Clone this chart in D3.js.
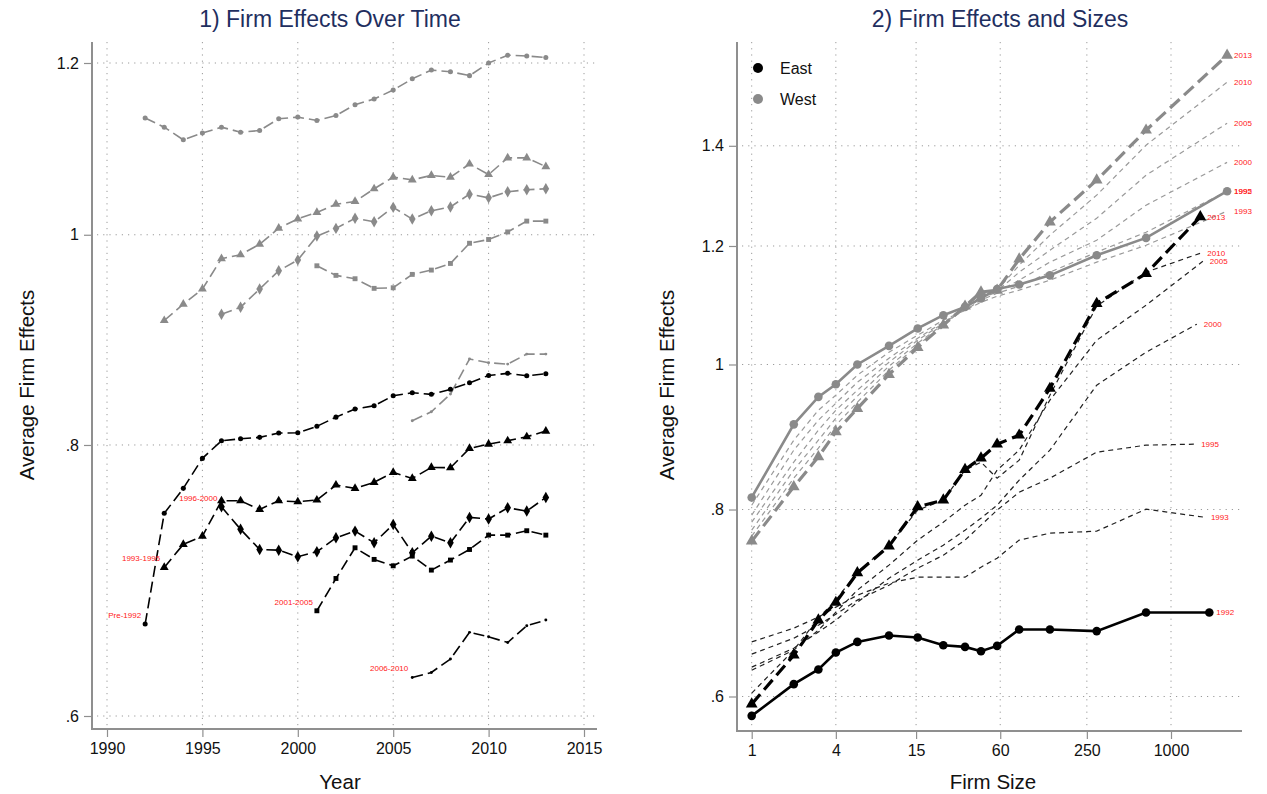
<!DOCTYPE html>
<html><head><meta charset="utf-8">
<script src="https://cdn.jsdelivr.net/npm/d3@7/dist/d3.min.js"></script>
<style>body{margin:0;background:#fff} svg{display:block;font-family:"Liberation Sans",Arial,Helvetica,sans-serif}</style>
</head><body><svg id="c" width="1267" height="794"></svg>
<script>
// ---------------- DATA: panel 1 (Firm effects over time, by entry cohort) ----------------
const years = [1992,1993,1994,1995,1996,1997,1998,1999,2000,2001,2002,2003,2004,2005,2006,2007,2008,2009,2010,2011,2012,2013];
const cohortLabels = ["Pre-1992","1993-1995","1996-2000","2001-2005","2006-2010"];
const cohortStart = [1992,1993,1996,2001,2006];
const westPre92 = [1.132,1.121,1.106,1.114,1.121,1.115,1.117,1.131,1.133,1.129,1.135,1.148,1.155,1.166,1.180,1.191,1.189,1.184,1.200,1.210,1.209,1.207];
const west9395 = [0.913,0.929,0.944,0.975,0.979,0.990,1.007,1.017,1.024,1.033,1.036,1.050,1.063,1.060,1.065,1.063,1.078,1.066,1.085,1.085,1.075];
const west9600 = [0.919,0.926,0.944,0.9625,0.9735,0.9986,1.0068,1.0176,1.0139,1.0295,1.0168,1.0258,1.030,1.044,1.040,1.0467,1.049,1.050];
const west0105 = [0.9676,0.9578,0.9544,0.9447,0.9453,0.9588,0.9632,0.970,0.991,0.995,1.003,1.0146,1.0146];
const west0610 = [0.8208,0.8287,0.8444,0.8764,0.873,0.8717,0.881,0.881];
const eastPre92 = [0.6615,0.744,0.764,0.7887,0.8036,0.8053,0.8065,0.8102,0.8104,0.816,0.824,0.8311,0.834,0.8429,0.8456,0.8442,0.8487,0.8546,0.8613,0.8632,0.861,0.8628];
const east9395 = [0.7025,0.7199,0.7262,0.754,0.754,0.7471,0.754,0.7532,0.7546,0.7667,0.764,0.7689,0.7771,0.7721,0.7812,0.7809,0.7971,0.8007,0.8036,0.807,0.8119];
const east9600 = [0.7492,0.7315,0.716,0.7155,0.7105,0.7143,0.7249,0.7301,0.7211,0.7353,0.7135,0.7262,0.7211,0.7408,0.7395,0.7484,0.7458,0.7567];
const east0105 = [0.6709,0.6943,0.7173,0.7085,0.7037,0.711,0.7005,0.708,0.716,0.727,0.727,0.7304,0.727];
const east0610 = [0.625,0.6284,0.6374,0.6557,0.6526,0.6487,0.6603,0.6643];
const yearTicks = [1990,1995,2000,2005,2010,2015];
const effTicksL = [0.6,0.8,1,1.2];

// ---------------- DATA: panel 2 (Firm effects by firm size, by year) ----------------
const sizeBins = [1,2,3,4,5.7,9.6,15.4,23.5,33.6,43.7,57,82,136,294,663];
const sizeYears = [1992,1993,1995,2000,2005,2010,2013];
const lastSizeEast = [1880,1720,1465,1530,1690,1620,1620];
const lastSizeWest = [2520,2520,2520,2520,2520,2520,2520];
const east1992 = [0.5824,0.6115,0.6255,0.642,0.6526,0.6591,0.657,0.6493,0.6476,0.6433,0.6486,0.6652,0.6652,0.6635,0.6828,0.6828];
const east1993 = [0.6526,0.6665,0.678,0.6884,0.7012,0.7143,0.7209,0.7209,0.7209,0.7321,0.7423,0.7632,0.7714,0.7738,0.8004,0.7907];
const east1995 = [0.6404,0.6563,0.6696,0.681,0.6959,0.7121,0.731,0.7457,0.7632,0.781,0.7992,0.8216,0.8395,0.8738,0.8833,0.8846];
const east2000 = [0.6277,0.6463,0.6625,0.6748,0.6937,0.7198,0.74,0.7573,0.775,0.7894,0.8053,0.837,0.8765,0.9687,1.019,1.064];
const east2005 = [0.6248,0.6444,0.6645,0.6831,0.7067,0.7344,0.7632,0.7846,0.8053,0.8178,0.85,0.8765,0.9466,1.038,1.0955,1.172];
const east2010 = [0.6031,0.6444,0.6769,0.6959,0.7265,0.7573,0.7992,0.8116,0.85,0.8605,0.8395,0.8631,0.9539,1.0938,1.1526,1.1867];
const east2013 = [0.593,0.6394,0.6748,0.6934,0.7257,0.7562,0.8033,0.8116,0.8508,0.8658,0.8846,0.8969,0.9638,1.0984,1.150,1.255];
const west1992 = [0.815,0.912,0.9514,0.970,1.000,1.029,1.057,1.0788,1.0927,1.107,1.123,1.131,1.147,1.183,1.215,1.3055];
const west1993 = [0.8053,0.89,0.9321,0.9539,0.9836,1.0191,1.0461,1.0706,1.0871,1.1005,1.1108,1.1211,1.1385,1.1705,1.2014,1.266];
const west1995 = [0.7931,0.8765,0.9179,0.9422,0.9731,1.0097,1.0413,1.0673,1.0871,1.104,1.1159,1.128,1.1526,1.1886,1.2257,1.3055];
const west2000 = [0.7846,0.8605,0.9038,0.9321,0.9612,1.0035,1.0381,1.0656,1.0888,1.1074,1.1176,1.1385,1.1705,1.2107,1.2777,1.3648];
const west2005 = [0.775,0.85,0.89,0.9207,0.9524,0.9974,1.0333,1.064,1.0905,1.1108,1.1194,1.1526,1.1922,1.2524,1.338,1.4495];
const west2010 = [0.7678,0.8395,0.8792,0.9108,0.9436,0.9912,1.0301,1.0623,1.0922,1.1143,1.1211,1.1651,1.2201,1.2976,1.4013,1.5439];
const west2013 = [0.762,0.8284,0.8675,0.9015,0.9345,0.9847,1.0265,1.0623,1.0938,1.118,1.121,1.176,1.245,1.328,1.434,1.609];
const sizeTicks = [1,4,15,60,250,1000];
const effTicksR = [0.6,0.8,1,1.2,1.4];
const legendLabels = ["East","West"];

// ---------------- STYLE ----------------
const GRID = "#9a9a9a", AXIS = "#8f8f8f", GRAY = "#8a8a8a", THIN_GRAY = "#9a9a9a", RED = "#ff2020", NAVY = "#1f2f5f";
const svg = d3.select("#c");
const fmt = v => v === 1 ? "1" : (v < 1 ? String(v).replace(/^0/, "") : String(v));

function frame(P, xs, ys, xTicks, yTicks, xFmt) {
  const g = svg.append("g");
  g.selectAll(".vg").data(xTicks).join("line")
    .attr("x1", d => xs(d)).attr("x2", d => xs(d)).attr("y1", P.y0).attr("y2", P.y1 - 2)
    .attr("stroke", GRID).attr("stroke-width", 1).attr("stroke-dasharray", "1.2,5");
  g.selectAll(".hg").data(yTicks).join("line")
    .attr("x1", P.x0 + 5).attr("x2", P.x1 - 2).attr("y1", d => ys(d)).attr("y2", d => ys(d))
    .attr("stroke", GRID).attr("stroke-width", 1).attr("stroke-dasharray", "1.2,5");
  const ya = g.append("g").attr("transform", `translate(${P.x0},0)`)
    .call(d3.axisLeft(ys).tickValues(yTicks).tickFormat(fmt).tickSize(8).tickPadding(5));
  const xa = g.append("g").attr("transform", `translate(0,${P.y1})`)
    .call(d3.axisBottom(xs).tickValues(xTicks).tickFormat(xFmt).tickSize(8).tickPadding(6));
  [ya, xa].forEach(a => {
    a.select(".domain").remove();
    a.selectAll("line").attr("stroke", AXIS).attr("stroke-width", 1.2);
    a.selectAll("text").attr("fill", "#111").style("font-size", "16px").style("font-family", '"Liberation Sans",Arial,sans-serif');
  });
  g.append("line").attr("x1", P.x0).attr("x2", P.x0).attr("y1", P.y0).attr("y2", P.y1 + 1)
    .attr("stroke", AXIS).attr("stroke-width", 2);
  g.append("line").attr("x1", P.x0).attr("x2", P.x1).attr("y1", P.y1).attr("y2", P.y1)
    .attr("stroke", AXIS).attr("stroke-width", 2);
  return g;
}

// ================= PANEL 1 =================
const L = {x0: 92, x1: 597, y0: 42, y1: 729};
const xL = d3.scaleLinear().domain([1990, 2015]).range([107, 584]);
const yL = d3.scaleLog().domain([0.6, 1.2]).range([716, 63]);
frame(L, xL, yL, yearTicks, effTicksL, d => String(d));

const westL = [westPre92, west9395, west9600, west0105, west0610];
const eastL = [eastPre92, east9395, east9600, east0105, east0610];
const symL = [
  {t: d3.symbolCircle, s: 20}, {t: d3.symbolTriangle, s: 34}, {t: d3.symbolDiamond, s: 38},
  {t: d3.symbolSquare, s: 24}, {t: d3.symbolCircle, s: 7}
];
const lineL = d3.line().x(d => xL(d.year)).y(d => yL(d.v));

function cohortPts(vals, start) {
  const i0 = years.indexOf(start);
  return vals.map((v, i) => ({year: years[i0 + i], v}));
}

const gL = svg.append("g");
[[westL, GRAY], [eastL, "#000"]].forEach(([set, col]) => {
  set.forEach((vals, k) => {
    const pts = cohortPts(vals, cohortStart[k]);
    gL.append("path").datum(pts).attr("d", lineL).attr("fill", "none")
      .attr("stroke", col).attr("stroke-width", 1.6).attr("stroke-dasharray", "11,5");
    gL.selectAll(null).data(pts).join("path")
      .attr("transform", d => `translate(${xL(d.year)},${yL(d.v)})`)
      .attr("d", d3.symbol().type(symL[k].t).size(symL[k].s)).attr("fill", col);
  });
});
eastL.forEach((vals, k) => {
  const p = cohortPts(vals, cohortStart[k])[0];
  gL.append("text").attr("x", xL(p.year) - 4).attr("y", yL(p.v) - 9).attr("dy", "0.35em")
    .attr("text-anchor", "end").attr("fill", RED).style("font-size", "8px").text(cohortLabels[k]);
});

svg.append("text").attr("x", 330).attr("y", 27).attr("text-anchor", "middle")
  .attr("fill", NAVY).style("font-size", "23px").text("1) Firm Effects Over Time");
svg.append("text").attr("x", 340).attr("y", 789).attr("text-anchor", "middle")
  .attr("fill", "#111").style("font-size", "20.5px").text("Year");
svg.append("text").attr("transform", "translate(34,385) rotate(-90)").attr("text-anchor", "middle")
  .attr("fill", "#111").style("font-size", "20.5px").text("Average Firm Effects");

// ================= PANEL 2 =================
const R = {x0: 737, x1: 1242, y0: 42, y1: 731};
const xR = d3.scaleLog().domain([1, 1000]).range([751.7, 1171]);
const yR = d3.scaleLog().domain([0.6, 1.4]).range([696.5, 145.8]);
frame(R, xR, yR, sizeTicks, effTicksR, d => String(d));

const eastR = [east1992, east1993, east1995, east2000, east2005, east2010, east2013];
const westR = [west1992, west1993, west1995, west2000, west2005, west2010, west2013];
const lineR = d3.line().x(d => xR(d.s)).y(d => yR(d.v));
const gR = svg.append("g");

function sizePts(vals, lastSize) {
  return vals.map((v, i) => ({s: i < sizeBins.length ? sizeBins[i] : lastSize, v}));
}

function drawRegion(set, lastSizes, col, thinCol) {
  set.forEach((vals, k) => {
    if (k === 0 || k === set.length - 1) return;
    const pts = sizePts(vals, lastSizes[k]);
    gR.append("path").datum(pts).attr("d", lineR).attr("fill", "none")
      .attr("stroke", thinCol).attr("stroke-width", 1.2).attr("stroke-dasharray", "5,4");
  });
  const p0 = sizePts(set[0], lastSizes[0]);
  gR.append("path").datum(p0).attr("d", lineR).attr("fill", "none")
    .attr("stroke", col).attr("stroke-width", 2.6);
  gR.selectAll(null).data(p0).join("circle")
    .attr("cx", d => xR(d.s)).attr("cy", d => yR(d.v)).attr("r", 4.3).attr("fill", col);
  const kL = set.length - 1;
  const pL = sizePts(set[kL], lastSizes[kL]);
  gR.append("path").datum(pL).attr("d", lineR).attr("fill", "none")
    .attr("stroke", col).attr("stroke-width", 3.2).attr("stroke-dasharray", "13,6");
  gR.selectAll(null).data(pL).join("path")
    .attr("transform", d => `translate(${xR(d.s)},${yR(d.v)})`)
    .attr("d", d3.symbol().type(d3.symbolTriangle).size(60)).attr("fill", col);
  set.forEach((vals, k) => {
    const p = sizePts(vals, lastSizes[k]).slice(-1)[0];
    gR.append("text").attr("x", xR(p.s) + 7).attr("y", yR(p.v)).attr("dy", "0.35em")
      .attr("fill", RED).style("font-size", "8px").text(sizeYears[k]);
  });
}
drawRegion(westR, lastSizeWest, GRAY, THIN_GRAY);
drawRegion(eastR, lastSizeEast, "#000", "#222");

const lg = svg.append("g");
legendLabels.forEach((t, i) => {
  lg.append("circle").attr("cx", 758).attr("cy", 68 + i * 31).attr("r", 5).attr("fill", i ? GRAY : "#000");
  lg.append("text").attr("x", 780).attr("y", 68 + i * 31).attr("dy", "0.35em")
    .attr("fill", "#111").style("font-size", "16px").text(t);
});

svg.append("text").attr("x", 1000).attr("y", 27).attr("text-anchor", "middle")
  .attr("fill", NAVY).style("font-size", "23px").text("2) Firm Effects and Sizes");
svg.append("text").attr("x", 993).attr("y", 789).attr("text-anchor", "middle")
  .attr("fill", "#111").style("font-size", "20.5px").text("Firm Size");
svg.append("text").attr("transform", "translate(674,385) rotate(-90)").attr("text-anchor", "middle")
  .attr("fill", "#111").style("font-size", "20.5px").text("Average Firm Effects");
</script></body></html>
